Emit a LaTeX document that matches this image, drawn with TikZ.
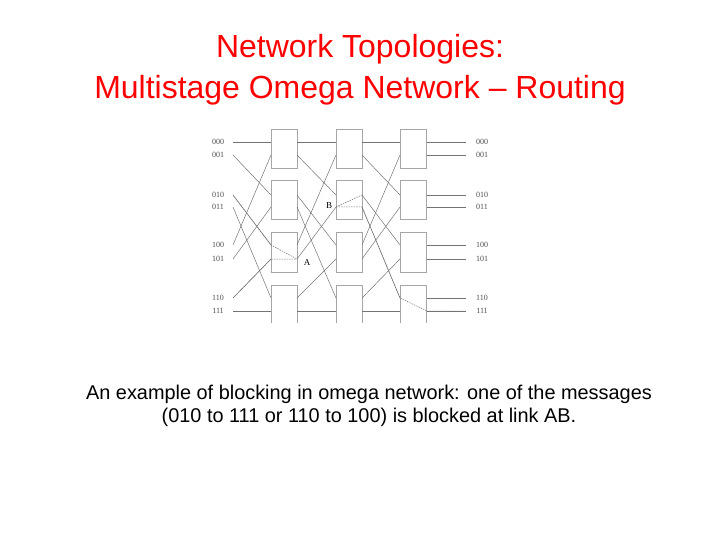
\documentclass[tikz,border=0pt]{standalone}
\usepackage{fontspec}
\setmainfont{Liberation Sans}
\newfontfamily\serifl{Liberation Serif}
\begin{document}
\begin{tikzpicture}[x=1pt,y=-1pt,
  wire/.style={draw=black!55,line width=0.5pt},
  sw/.style={draw=black!35,line width=0.6pt},
  blk/.style={draw=black!55,line width=0.5pt,dash pattern=on 1.5pt off 1pt},
  lab/.style={font=\serifl\fontsize{8}{8}\selectfont,text=black!70}]
\useasboundingbox (0,0) rectangle (720,540);
\node[text=red,font=\fontsize{26}{33}\selectfont,align=center,scale=1.23] (title) at (360,70) {Network Topologies:\\Multistage Omega Network -- Routing};
\node[font=\fontsize{18}{21}\selectfont,align=center,scale=1.105] (cap) at (369,406) {An example of blocking in omega network: one of the messages\\(010 to 111 or 110 to 100) is blocked at link AB.};
% port y positions
\def\py#1{\ifcase#1 142\or155\or195\or207\or245\or259\or298\or311\fi}
\foreach \i/\s in {0/000,1/001,2/010,3/011,4/100,5/101,6/110,7/111}{
  \node[lab] (in\i) at (218,\py{\i}) {\s};
  \node[lab] (out\i) at (482,\py{\i}) {\s};
  \draw[wire] (427,\py{\i}) -- (466,\py{\i});
}
% boxes
\foreach \xa in {271,336,400}{
  \foreach \ya/\yb in {129/168,180/219,232/272}{
    \draw[sw] (\xa,\ya) rectangle (\xa+26,\yb);
  }
  \draw[sw] (\xa,323) -- (\xa,285) -- (\xa+26,285) -- (\xa+26,323);
}
% shuffles
\foreach \xa/\xb in {233/271,297/336,362/400}{
  \foreach \i/\j in {0/0,1/2,2/4,3/6,4/1,5/3,6/5,7/7}{
    \draw[wire] (\xa,\py{\i}) -- (\xb,\py{\j});
  }
}
% blocked paths
\draw[blk] (233,195) -- (271,245) -- (297,259);
\draw[blk] (233,298) -- (271,259) -- (297,259);
\draw[blk] (336,207) -- (362,207) -- (400,298) -- (427,311) -- (466,311);
\draw[blk] (336,207) -- (362,195);
\node[font=\serifl\fontsize{9}{9}\selectfont] (A) at (307,263) {A};
\node[font=\serifl\fontsize{9}{9}\selectfont] (B) at (329,206) {B};
\end{tikzpicture}
\end{document}
